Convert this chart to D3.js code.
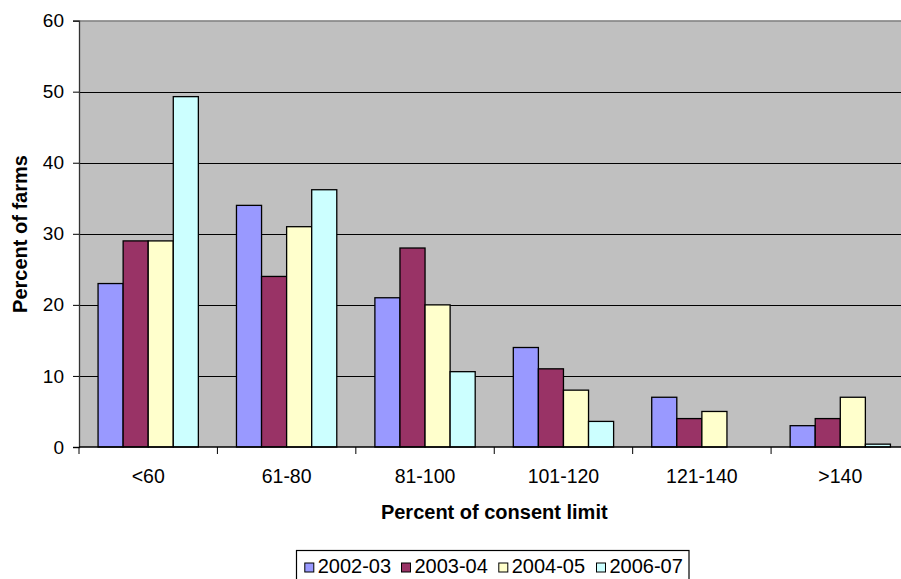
<!DOCTYPE html>
<html>
<head>
<meta charset="utf-8">
<script src="https://cdn.jsdelivr.net/npm/d3@7"></script>
<style>
  html, body { margin: 0; padding: 0; background: #fff; }
  svg { display: block; font-family: "Liberation Sans", Arial, sans-serif; }
</style>
</head>
<body>
<svg id="chart" width="901" height="579"></svg>
<script>
// Farm compliance distribution by season
const categories = ["<60", "61-80", "81-100", "101-120", "121-140", ">140"];
const seriesNames = ["2002-03", "2003-04", "2004-05", "2006-07"];
const values2002 = [23, 34, 21, 14, 7, 3];
const values2003 = [29, 24, 28, 11, 4, 4];
const values2004 = [29, 31, 20, 8, 5, 7];
const values2006 = [49.3, 36.2, 10.6, 3.6, 0, 0.4];
const yTicks = [0, 10, 20, 30, 40, 50, 60];
const colors = ["#9999FF", "#993366", "#FFFFCC", "#CCFFFF"];

const seriesValues = [values2002, values2003, values2004, values2006];

const svg = d3.select("#chart");
const plot = { left: 79, right: 909.5, top: 20.6, bottom: 447 };

const x = d3.scaleBand().domain(categories).range([plot.left, plot.right]).paddingInner(0).paddingOuter(0);
const xs = d3.scaleBand().domain(seriesNames).range([0, x.bandwidth()]).paddingInner(0).paddingOuter(0.76);
const y = d3.scaleLinear().domain([0, 60]).range([plot.bottom, plot.top]);

// plot background
svg.append("rect")
  .attr("x", plot.left).attr("y", plot.top)
  .attr("width", plot.right - plot.left).attr("height", plot.bottom - plot.top)
  .attr("fill", "#C0C0C0");

// top border
svg.append("line")
  .attr("x1", plot.left).attr("x2", plot.right)
  .attr("y1", plot.top + 0.5).attr("y2", plot.top + 0.5)
  .attr("stroke", "#808080").attr("stroke-width", 1.5);

// horizontal gridlines
svg.append("g").selectAll("line")
  .data(yTicks.filter(t => t > 0 && t < 60))
  .join("line")
  .attr("x1", plot.left).attr("x2", plot.right)
  .attr("y1", d => Math.round(y(d)) + 0.5).attr("y2", d => Math.round(y(d)) + 0.5)
  .attr("stroke", "#000").attr("stroke-width", 1);

// bars
const rows = [];
categories.forEach((c, i) => {
  seriesNames.forEach((s, j) => {
    rows.push({ cat: c, series: s, value: seriesValues[j][i], color: colors[j] });
  });
});
svg.append("g").selectAll("rect")
  .data(rows.filter(d => d.value > 0))
  .join("rect")
  .attr("x", d => x(d.cat) + xs(d.series))
  .attr("y", d => y(d.value))
  .attr("width", xs.bandwidth())
  .attr("height", d => y(0) - y(d.value))
  .attr("fill", d => d.color)
  .attr("stroke", "#000")
  .attr("stroke-width", 1.3);

// y axis
const yAxis = d3.axisLeft(y).tickValues(yTicks).tickSize(6).tickPadding(9);
const gy = svg.append("g").attr("transform", `translate(${plot.left},0)`).call(yAxis);
gy.select(".domain").attr("stroke", "#333").attr("stroke-width", 1.3);
gy.selectAll(".tick line").attr("stroke", "#000");
gy.selectAll(".tick text").attr("font-size", "19px").attr("fill", "#000")
  .attr("font-family", "'Liberation Sans', Arial, sans-serif");

// x axis: ticks sit on category boundaries
const gx = svg.append("g").attr("transform", `translate(0,${plot.bottom})`);
gx.append("line")
  .attr("x1", plot.left).attr("x2", plot.right)
  .attr("y1", 0).attr("y2", 0)
  .attr("stroke", "#000").attr("stroke-width", 1.3);
gx.selectAll("line.tick")
  .data(categories)
  .join("line").attr("class", "tick")
  .attr("x1", d => x(d)).attr("x2", d => x(d))
  .attr("y1", 0).attr("y2", 7)
  .attr("stroke", "#000");
gx.selectAll("text")
  .data(categories)
  .join("text")
  .attr("x", d => x(d) + x.bandwidth() / 2)
  .attr("y", 36)
  .attr("text-anchor", "middle")
  .attr("font-size", "19.5px")
  .attr("fill", "#000")
  .text(d => d);

// axis titles
svg.append("text")
  .attr("x", (plot.left + plot.right) / 2)
  .attr("y", 518.5)
  .attr("text-anchor", "middle")
  .attr("font-size", "20px")
  .attr("font-weight", "bold")
  .text("Percent of consent limit");

svg.append("text")
  .attr("transform", "translate(27,234) rotate(-90)")
  .attr("text-anchor", "middle")
  .attr("font-size", "20px")
  .attr("font-weight", "bold")
  .text("Percent of farms");

// legend
const legend = svg.append("g");
legend.append("rect")
  .attr("x", 296.5).attr("y", 550.5)
  .attr("width", 392.5).attr("height", 40)
  .attr("fill", "#fff").attr("stroke", "#000").attr("stroke-width", 1.2);
const itemX = [304.3, 401, 498.3, 596];
const items = legend.selectAll("g.item")
  .data(seriesNames)
  .join("g").attr("class", "item")
  .attr("transform", (d, i) => `translate(${itemX[i]},0)`);
items.append("rect")
  .attr("x", 0.5).attr("y", 563)
  .attr("width", 9).attr("height", 9)
  .attr("fill", (d, i) => colors[i])
  .attr("stroke", "#000").attr("stroke-width", 1);
items.append("text")
  .attr("x", 13.4).attr("y", 572.5)
  .attr("font-size", "20px")
  .attr("fill", "#000")
  .text(d => d);
</script>
</body>
</html>
